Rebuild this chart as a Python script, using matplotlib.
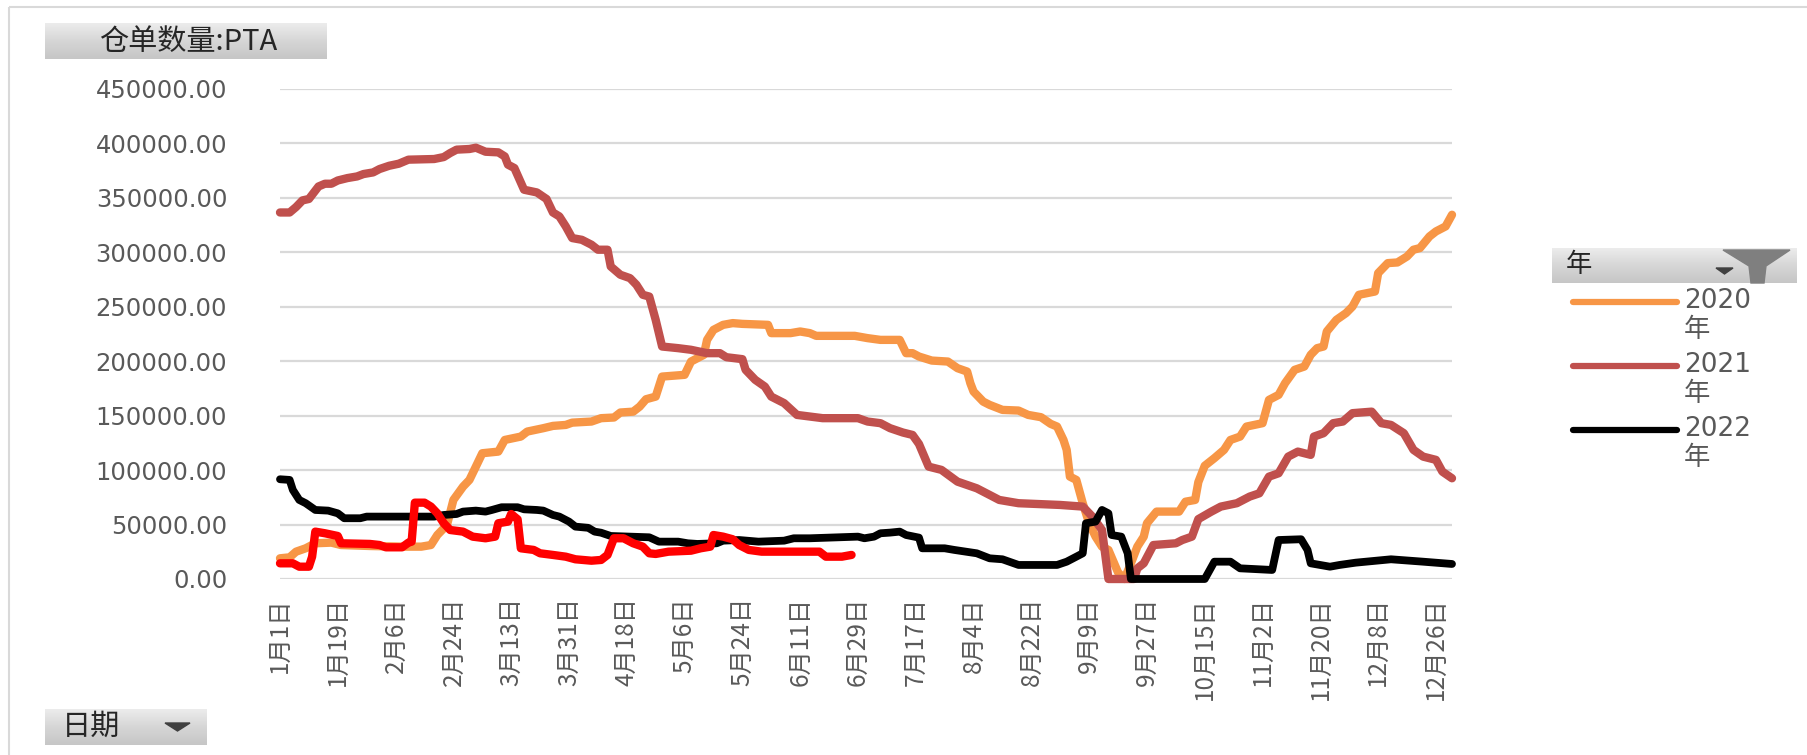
import numpy as np
import matplotlib
matplotlib.use("Agg")
import matplotlib.pyplot as plt
from matplotlib.colors import LinearSegmentedColormap
from matplotlib.patches import Polygon, Rectangle
from matplotlib.lines import Line2D

plt.rcParams['font.family'] = ['Noto Sans CJK SC', 'DejaVu Sans']

W, H = 1807, 755

# x axis: day index in the year (category axis, 366 days), labels every 18 days
tick_days = list(range(0, 361, 18))
tick_labels = ["1月1日", "1月19日", "2月6日", "2月24日", "3月13日", "3月31日", "4月18日",
               "5月6日", "5月24日", "6月11日", "6月29日", "7月17日", "8月4日", "8月22日",
               "9月9日", "9月27日", "10月15日", "11月2日", "11月20日", "12月8日", "12月26日"]

# 2020年
days_2020 = [0, 3, 5, 8, 11, 16, 19, 28, 38, 44, 47, 49, 52, 54, 57, 59, 61, 63, 68, 70,
             75, 77, 82, 85, 89, 91, 97, 100, 104, 106, 110, 112, 114, 117, 119, 126, 128,
             130, 132, 133, 135, 138, 141, 144, 152, 153, 159, 162, 165, 167, 179, 183, 187,
             193, 195, 197, 199, 203, 208, 211, 214, 215, 216, 219, 221, 225, 230, 233, 237,
             240, 242, 244, 245, 246, 248, 250, 252, 254, 256, 258, 261, 263, 265, 267, 269,
             270, 273, 280, 282, 285, 286, 288, 291, 294, 296, 299, 301, 306, 308, 311, 313,
             316, 319, 321, 323, 325, 326, 329, 332, 334, 336, 341, 342, 345, 348, 351, 353,
             355, 358, 360, 363, 365]
vals_2020 = [19000, 19900, 25100, 28200, 32800, 33400, 31200, 30300, 29700, 29700, 31200,
             40400, 49600, 72600, 84800, 91000, 103200, 115500, 117000, 127700, 130800, 135400,
             138500, 140600, 141500, 143600, 144600, 147700, 148300, 152900, 153700, 158300,
             165100, 167500, 185900, 187500, 199700, 202800, 205900, 219600, 228800, 233400,
             235000, 234300, 233400, 225800, 225800, 227300, 225800, 223300, 223300, 221200,
             219600, 219600, 207400, 207400, 204300, 200600, 199700, 193600, 190500, 179800,
             172100, 162900, 159900, 155300, 154700, 150700, 148600, 142500, 140000, 127700,
             118600, 94000, 91000, 69600, 51200, 38900, 29700, 26700, 6000, 0, 14400, 29700,
             38900, 51200, 61900, 61900, 71000, 72600, 89000, 104000, 111000, 118600, 127700,
             130800, 140000, 143100, 164500, 169100, 179800, 192100, 195100, 205900, 212000,
             213500, 227300, 238000, 244200, 250200, 261000, 264000, 280900, 290100, 290700,
             296200, 302400, 303900, 314600, 319200, 323800, 334500]

# 2021年
days_2021 = [0, 3, 5, 7, 9, 12, 14, 16, 18, 21, 24, 26, 29, 31, 34, 37, 40, 48, 51, 53, 55,
             59, 61, 64, 68, 70, 71, 73, 76, 80, 83, 85, 87, 89, 91, 94, 97, 99, 102, 103, 106,
             109, 111, 113, 115, 117, 119, 124, 128, 133, 137, 139, 144, 145, 148, 151, 153,
             157, 161, 165, 169, 180, 183, 187, 190, 194, 197, 199, 202, 206, 211, 217, 221,
             224, 230, 243, 250, 253, 256, 258, 266, 267, 269, 272, 279, 281, 284, 286, 290,
             293, 298, 302, 305, 308, 311, 314, 317, 321, 322, 325, 328, 331, 334, 340, 343,
             346, 350, 353, 356, 360, 362, 365]
vals_2021 = [336600, 336600, 341600, 347700, 349000, 360500, 363000, 363000, 366000, 368200,
             369700, 371900, 373400, 376500, 379500, 381400, 385100, 385700, 387500, 391200,
             394300, 394900, 396100, 392400, 391800, 388100, 380500, 377400, 357500, 355000,
             349000, 336600, 333000, 323800, 313100, 311500, 307000, 302400, 302400, 287000,
             279400, 276300, 270200, 261000, 259400, 238000, 213500, 212000, 210500, 207400,
             207400, 203700, 201900, 192100, 182900, 176700, 167500, 161500, 150700, 149200,
             147700, 147700, 144600, 143100, 138500, 134500, 132300, 124000, 103200, 100200,
             89400, 83300, 77200, 72600, 69600, 68000, 66500, 57300, 45000, 0, 0, 9800, 14400,
             31200, 32800, 35800, 38900, 55000, 61800, 66500, 69600, 75700, 78700, 94000, 97100,
             112400, 117000, 114000, 130800, 133900, 143100, 144600, 152300, 153700, 143100,
             141500, 133900, 118600, 112400, 109400, 98600, 92500]

# 2022年
days_2022 = [0, 3, 4, 6, 8, 11, 15, 18, 20, 25, 27, 48, 51, 55, 57, 61, 64, 66, 69, 74, 76,
             80, 82, 85, 87, 90, 92, 96, 98, 100, 103, 115, 118, 124, 127, 130, 136, 138, 143,
             149, 157, 160, 165, 180, 182, 185, 187, 190, 193, 195, 199, 200, 207, 210, 217,
             221, 225, 230, 242, 245, 248, 250, 251, 254, 256, 258, 259, 262, 264, 265, 288,
             291, 296, 299, 305, 309, 311, 318, 320, 321, 327, 330, 335, 346, 356, 365]
vals_2022 = [91600, 91000, 81800, 72600, 69600, 63400, 62800, 60300, 55800, 55800, 57300,
             57300, 58800, 59700, 61900, 62800, 61900, 63400, 65900, 65900, 64000, 63400,
             62800, 58800, 57300, 52700, 48100, 47000, 43500, 42500, 39500, 38300, 34300,
             34300, 32800, 32200, 32800, 35200, 35800, 34300, 35200, 37400, 37400, 38900,
             37400, 38900, 42000, 42600, 43500, 40400, 38000, 28200, 28200, 26700, 23600,
             19000, 18100, 12900, 12900, 15900, 20500, 23600, 51200, 52700, 63400, 60300,
             40400, 38900, 23600, 0, 0, 15900, 15900, 9800, 8900, 8300, 35800, 36500, 26700,
             14400, 11300, 12900, 15000, 18100, 15900, 13800]

# 2023年 (not shown in the legend)
days_2023 = [0, 4, 6, 9, 10, 11, 14, 18, 19, 28, 31, 33, 38, 40, 41, 42, 45, 47, 49, 51, 53,
             57, 60, 64, 67, 68, 71, 72, 74, 75, 79, 81, 85, 89, 92, 97, 100, 102, 104, 107,
             110, 113, 115, 117, 121, 128, 131, 134, 135, 138, 141, 143, 146, 150, 168, 170,
             175, 178]
vals_2023 = [14400, 14400, 11300, 11300, 20500, 43500, 42000, 39500, 32800, 32200, 31200,
             29100, 29100, 33400, 34300, 70100, 70100, 66500, 60300, 51200, 45000, 43500,
             38900, 37400, 38900, 51200, 52700, 59700, 54800, 28200, 26700, 23600, 22100,
             20500, 18100, 16800, 17500, 22100, 37400, 37400, 32800, 29700, 23600, 23000,
             25100, 26000, 28200, 29700, 40400, 38900, 36500, 31200, 26700, 25100, 25100,
             20500, 20500, 22100]

series = [
    ("2020\n年", days_2020, vals_2020, "#F79646", 6.0),
    ("2021\n年", days_2021, vals_2021, "#C0504D", 6.0),
    ("2022\n年", days_2022, vals_2022, "#000000", 5.6),
    (None, days_2023, vals_2023, "#FF0000", 6.0),
]

fig = plt.figure(figsize=(W / 100, H / 100), dpi=100)
fig.patch.set_facecolor("white")

# main plot area in pixel coordinates
x0, x1, y_top, y_bot = 280, 1452, 89, 579
ax = fig.add_axes([x0 / W, 1 - y_bot / H, (x1 - x0) / W, (y_bot - y_top) / H])
for name, d, v, c, lw in series:
    ax.plot(d, v, color=c, lw=lw, solid_joinstyle="round", solid_capstyle="round",
            clip_on=False)

ax.set_xlim(0, 365)
ax.set_ylim(0, 450000)
ax.set_yticks(np.arange(0, 450001, 50000))
ax.set_yticklabels([f"{t:.2f}" for t in np.arange(0, 450001, 50000)],
                   family="DejaVu Sans", fontsize=17.5, color="#595959")
ax.set_xticks(tick_days)
ax.set_xticklabels(tick_labels, rotation=90, fontsize=17.5, color="#595959",
                   family=["Noto Sans CJK SC", "DejaVu Sans"])
ax.tick_params(axis="y", length=0, pad=38)
ax.tick_params(axis="x", length=0, pad=13)
ax.yaxis.grid(True, color="#d9d9d9", lw=1.6)
ax.set_axisbelow(True)
for s in ax.spines.values():
    s.set_visible(False)
ax.patch.set_visible(False)

# overlay in pixel coordinates for buttons, legend and frame
ov = fig.add_axes([0, 0, 1, 1], zorder=-1)
ov.set_axis_off()
ov.patch.set_visible(False)

ov.add_patch(Rectangle((9, 7), W, H, fill=False, edgecolor="#d9d9d9", lw=1.5))

btn_cmap = LinearSegmentedColormap.from_list("btn", ["#ececec", "#d6d6d6", "#c6c6c6"])
grad = np.linspace(0, 1, 64).reshape(-1, 1)


def button(bx0, by0, bx1, by1):
    ov.imshow(grad, extent=(bx0, bx1, by1, by0), aspect="auto", cmap=btn_cmap,
              origin="upper", zorder=1)


button(45, 23, 327, 59)
ov.text(188, 42, "仓单数量:PTA", ha="center", va="center", fontsize=21,
        color="#262626", zorder=2)

button(45, 709, 207, 745)
ov.text(62, 727, "日期", ha="left", va="center", fontsize=21, color="#262626", zorder=2)
ov.add_patch(Polygon([(165, 723), (190, 723), (177.5, 731)], closed=True,
                     color="#404040", zorder=2))

button(1552, 248, 1797, 283)
ov.text(1566, 265, "年", ha="left", va="center", fontsize=19, color="#262626", zorder=2)
ov.add_patch(Polygon([(1716, 268), (1733, 268), (1724.5, 274)], closed=True,
                     color="#404040", zorder=2))
ov.add_patch(Polygon([(1723, 250), (1790, 250), (1766, 266), (1764, 283), (1751, 283),
                      (1749, 266)], closed=True, color="#7f7f7f", zorder=2))

# legend entries (2020-2022)
for i, (name, d, v, c, lw) in enumerate(series[:3]):
    ly = 302 + i * 64
    ov.add_line(Line2D([1573, 1677], [ly, ly], color=c, lw=4.5, solid_capstyle="round",
                       zorder=2))
    ov.text(1684, ly - 14, name, ha="left", va="top", fontsize=19, color="#595959",
            family=["DejaVu Sans", "Noto Sans CJK SC"], linespacing=1.15, zorder=2)

ov.set_xlim(0, W)
ov.set_ylim(H, 0)

fig.savefig("out.png", dpi=100)
